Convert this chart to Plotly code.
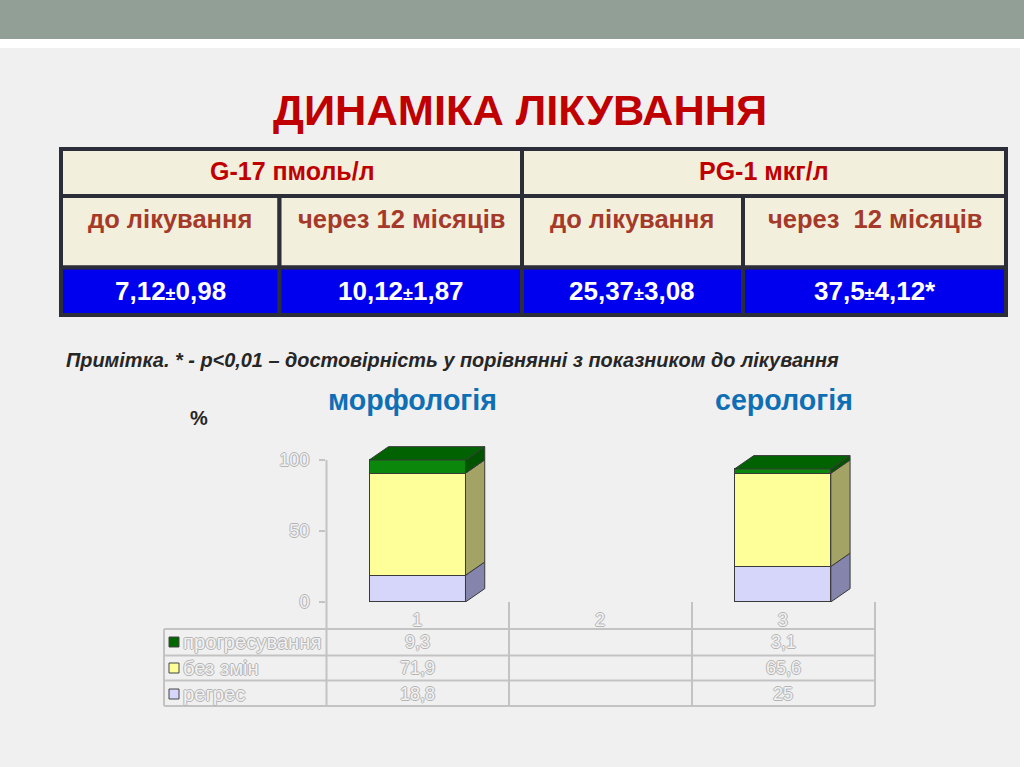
#!/usr/bin/env python3
"""Treatment dynamics slide: results table and stacked 3D-look bars."""

import plotly.graph_objects as go

W, H = 1024, 767

# chart data
categories = [1, 2, 3]
regres = [18.8, None, 25]
bez_zmin = [71.9, None, 65.6]
progres = [9.3, None, 3.1]
series_names = ["прогресування", "без змін", "регрес"]
table_rows = [["9,3", "", "3,1"], ["71,9", "", "65,6"], ["18,8", "", "25"]]

# slide table text
header_top = ["G-17 пмоль/л", "PG-1 мкг/л"]
header_sub = ["до лікування", "через 12 місяців", "до лікування", "через  12 місяців"]
result_cells = ["7,12±0,98", "10,12±1,87", "25,37±3,08", "37,5±4,12*"]

FONT = "Liberation Sans"
LINE = "#2b2d38"
CREAM = "#f2efdc"
BLUE = "#0000ee"
PALE = "#c3c3c3"
EMBOSS = ("-1px 0 0 #b4b4b4, 1px 0 0 #b4b4b4, 0 -1px 0 #b4b4b4, 0 1px 0 #b4b4b4")

BAR_WIDTH = 0.527
DX = 0.1055  # depth of the fake 3D box, in category units
DY = 9.4     # same, in y units


def px(x):
    return x / W


def py(y):
    return 1 - y / H


def rect(x0, y0, x1, y1, fill, line=None, width=0):
    return dict(type="rect", xref="paper", yref="paper", layer="below",
                x0=px(x0), x1=px(x1), y0=py(y0), y1=py(y1), fillcolor=fill,
                line=dict(color=line, width=width) if line else dict(width=0))


def hline(x0, x1, y, color=PALE, width=2):
    return dict(type="line", xref="paper", yref="paper", layer="below",
                x0=px(x0), x1=px(x1), y0=py(y), y1=py(y),
                line=dict(color=color, width=width))


def vline(x, y0, y1, color=PALE, width=2):
    return dict(type="line", xref="paper", yref="paper", layer="below",
                x0=px(x), x1=px(x), y0=py(y0), y1=py(y1),
                line=dict(color=color, width=width))


def label(x, y, text, size, color, bold=True, anchor="center", **font_extra):
    shown = f"<b>{text}</b>" if bold else text
    return dict(xref="paper", yref="paper", x=px(x), y=py(y), text=shown,
                showarrow=False, xanchor=anchor, yanchor="middle",
                font=dict(family=FONT, size=size, color=color, **font_extra))


def box_face(xs, ys, fill):
    return go.Scatter(x=xs, y=ys, mode="lines", fill="toself", fillcolor=fill,
                      line=dict(color="#3a3a3a", width=1), hoverinfo="skip",
                      showlegend=False)


fig = go.Figure()

# stacked bars, bottom to top
stack = [
    ("регрес", regres, "#d6d6fa", "#8484ac"),
    ("без змін", bez_zmin, "#ffff99", "#a3a366"),
    ("прогресування", progres, "#0b880b", "#005400"),
]
for name, values, front, _ in stack:
    fig.add_trace(go.Bar(x=categories, y=values, name=name, width=BAR_WIDTH,
                         marker=dict(color=front, line=dict(color="#3a3a3a", width=1)),
                         showlegend=False))

# side and top faces follow the stacked values
for i, cat in enumerate(categories):
    if regres[i] is None:
        continue
    right = cat + BAR_WIDTH / 2
    left = cat - BAR_WIDTH / 2
    base = 0
    for name, values, _, side in stack:
        top = base + values[i]
        fig.add_trace(box_face([right, right + DX, right + DX, right, right],
                               [base, base + DY, top + DY, top, base], side))
        base = top
    fig.add_trace(box_face([left, left + DX, right + DX, right, left],
                           [base, base + DY, base + DY, base, base], "#006200"))

shapes = [
    rect(0, 0, W, H, "#ffffff"),
    rect(0, 48, 1020, H, "#f0f0f0"),
    rect(0, 0, W, 39, "#919f97"),
]

# slide table cells
col_x = [61, 279.5, 522, 743, 1006]
row_y = [149, 196, 267.5, 315]
shapes.append(rect(col_x[0], row_y[0], col_x[2], row_y[1], CREAM, LINE, 4))
shapes.append(rect(col_x[2], row_y[0], col_x[4], row_y[1], CREAM, LINE, 4))
for c in range(4):
    shapes.append(rect(col_x[c], row_y[1], col_x[c + 1], row_y[2], CREAM, LINE, 4))
    shapes.append(rect(col_x[c], row_y[2], col_x[c + 1], row_y[3], BLUE, LINE, 4))

# grid of the data table under the bars
grid_x = [326.5, 509, 692, 875]
grid_y = [629, 655.5, 680.5, 706]
for y in grid_y:
    shapes.append(hline(164, 875, y))
shapes.append(vline(164, 629, 706))
for x in grid_x:
    shapes.append(vline(x, 602, 706))
shapes.append(dict(type="line", xref="paper", yref="y", layer="below",
                   x0=px(326.5), x1=px(326.5), y0=0, y1=100,
                   line=dict(color=PALE, width=2)))

# legend keys
key_colors = ["#006600", "#ffff99", "#d6d6fa"]
row_mid = [642, 668, 694]
for color, y in zip(key_colors, row_mid):
    shapes.append(dict(type="rect", xref="paper", yref="paper",
                       x0=px(169), x1=px(179), y0=py(y - 5), y1=py(y + 5),
                       fillcolor=color, line=dict(color="#444444", width=1)))

annotations = [
    label(519.5, 110, "ДИНАМІКА ЛІКУВАННЯ", 43.4, "#c00000"),
    label(292, 171, header_top[0], 25, "#c00000"),
    label(764, 171, header_top[1], 25, "#c00000"),
    label(64, 360, "<i>Примітка. * - р&lt;0,01 – достовірність у порівнянні з показником до лікування</i>",
          19.9, "#262626", anchor="left"),
    label(412.5, 400, "морфологія", 28.6, "#0f6fb5"),
    label(783.5, 400, "серологія", 28.6, "#0f6fb5"),
    label(199, 418, "%", 20, "#262626"),
]
sub_mid = [170, 401, 632, 875]
for x, text in zip(sub_mid, header_sub):
    annotations.append(label(x, 219, text, 25.5, "#a5392a"))
for x, text in zip(sub_mid, result_cells):
    # the plus-minus sign is set smaller than the digits on the slide
    small = text.replace("±", "<span style='font-size:18px'>±</span>")
    annotations.append(label(x, 291, small, 26, "#ffffff"))

cat_mid = [417.5, 600.5, 783]
for name, y, cells in zip(series_names, row_mid, table_rows):
    annotations.append(label(181, y, name, 20.2, "#f2f2f2", bold=False,
                             anchor="left", shadow=EMBOSS))
    for x, text in zip(cat_mid, cells):
        if text:
            annotations.append(label(x, y, text, 18, "#f2f2f2", bold=False, shadow=EMBOSS))

# the paper came out 10px short of the height with b=0, so give it those back
fig.update_layout(
    width=W, height=H + 10,
    margin=dict(l=0, r=0, t=0, b=10),
    autosize=False,
    paper_bgcolor="#ffffff",
    plot_bgcolor="rgba(0,0,0,0)",
    barmode="stack",
    showlegend=False,
    shapes=shapes,
    annotations=annotations,
    xaxis=dict(
        domain=[px(326), px(874)], range=[0.5, 3.5], tickmode="array",
        tickvals=categories, ticks="", showgrid=False, zeroline=False, showline=False,
        ticklabelstandoff=5,
        tickfont=dict(family=FONT, size=18, color="#f2f2f2", shadow=EMBOSS),
    ),
    yaxis=dict(
        domain=[py(602), py(445.8)], range=[0, 110], tickmode="array",
        tickvals=[0, 50, 100], ticks="outside", ticklen=6, tickwidth=2, tickcolor=PALE,
        showgrid=False, zeroline=False, showline=False, ticklabelstandoff=6,
        tickfont=dict(family=FONT, size=18, color="#f2f2f2", shadow=EMBOSS),
    ),
)

fig.write_html("out.html", config=dict(displayModeBar=False),
               post_script="document.body.style.margin='0';document.body.style.overflow='hidden';")
